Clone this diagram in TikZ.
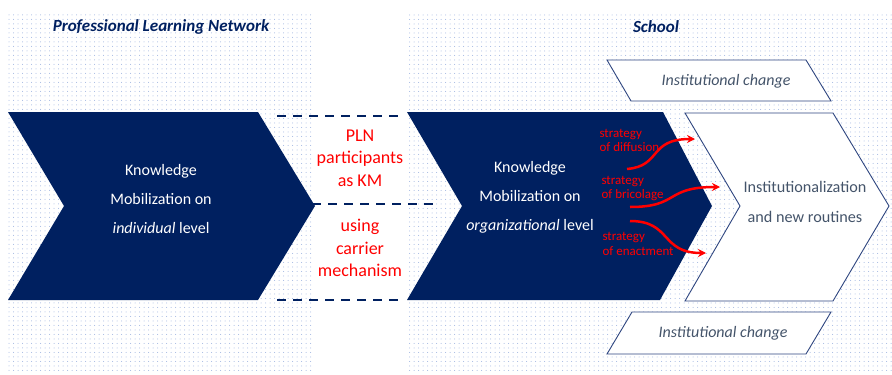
\documentclass[tikz,border=0pt]{standalone}
\usepackage{fontspec}
\setmainfont{Carlito}
\usetikzlibrary{patterns.meta,arrows.meta}
\definecolor{navy}{HTML}{002060}
\definecolor{slate}{HTML}{44546A}
\definecolor{dotblue}{HTML}{9DB3E0}
\definecolor{framecol}{HTML}{2F4680}
\begin{document}
\begin{tikzpicture}[x=1pt,y=-1pt,
  panel/.style={pattern={Dots[radius=0.5pt,distance=4.5pt]}, pattern color=dotblue},
  navyarrow/.style={fill=navy, draw=none},
  whitearrow/.style={fill=white, draw=framecol, line width=0.9pt},
  sep/.style={draw=navy, line width=2.4pt, dash pattern=on 9pt off 7pt},
  title/.style={text=navy, font=\fontsize{17}{20}\selectfont\bfseries\itshape},
  kmtext/.style={text=white, align=center, font=\fontsize{16}{29}\selectfont},
  redtext/.style={text=red, align=center, font=\fontsize{18}{22.5}\selectfont},
  strat/.style={text=red, align=left, anchor=west, font=\fontsize{13}{14.5}\selectfont},
  strategy/.style={draw=red, line width=2.5pt, -{Stealth[length=8pt,width=8pt]}},
  change/.style={text=slate, font=\fontsize{16}{19}\selectfont\itshape}]
\useasboundingbox (0,0) rectangle (892,375);
\fill[white] (0,0) rectangle (892,375);
\fill[panel] (8,12) rectangle (314,373);
\fill[panel] (406,12) rectangle (892,373);

\draw[sep] (277,116) -- (405,116);
\draw[sep] (312,204) -- (440,204);
\draw[sep] (277,300) -- (405,300);

\fill[navyarrow] (8,112) -- (258,112) -- (315,206) -- (258,300) -- (8,300) -- (64,206) -- cycle;
\fill[navyarrow] (407,112) -- (663,112) -- (712,206) -- (660,300) -- (407,300) -- (462,206) -- cycle;
\draw[whitearrow] (685,113) -- (833,113) -- (889,206) -- (833,301) -- (685,301) -- (740,206) -- cycle;
\draw[whitearrow] (607,60) -- (806,60) -- (831,101) -- (631,101) -- cycle;
\draw[whitearrow] (632,312) -- (831,312) -- (806,354) -- (607,354) -- cycle;

\node[title] (plnTitle) at (161,27){Professional Learning Network};
\node[title] (schoolTitle) at (656,27){School};

\node[kmtext] (indivText) at (161,199){Knowledge\\Mobilization on\\\textit{individual} level};
\node[kmtext] (orgText) at (530,197){Knowledge\\Mobilization on\\\textit{organizational} level};
\node[redtext] (kmText) at (360,158){PLN\\participants\\as KM};
\node[redtext] (carrierText) at (360,248){using\\carrier\\mechanism};
\node[text=slate, align=center, font=\fontsize{16.2}{30}\selectfont] (instText) at (805,202){Institutionalization\\and new routines};
\node[change] (changeTop) at (726,81){Institutional change};
\node[change] (changeBot) at (723,333){Institutional change};

\node[strat] (diffText) at (596,140.5){strategy\\of diffusion};
\node[strat] (bricText) at (598,188.5){strategy\\of bricolage};
\node[strat] (enactText) at (599,244){strategy\\of enactment};

\coordinate (diffStart) at (627,169);
\coordinate (diffEnd) at (695,139);
\coordinate (bricStart) at (630,207);
\coordinate (bricEnd) at (720,187);
\coordinate (enactStart) at (630,221);
\coordinate (enactEnd) at (706,253);
\draw[strategy] (diffStart) .. controls (662,166) and (648,139) .. (diffEnd);
\draw[strategy] (bricStart) .. controls (680,207) and (664,187) .. (bricEnd);
\draw[strategy] (enactStart) .. controls (672,221) and (660,253) .. (enactEnd);

\end{tikzpicture}
\end{document}
